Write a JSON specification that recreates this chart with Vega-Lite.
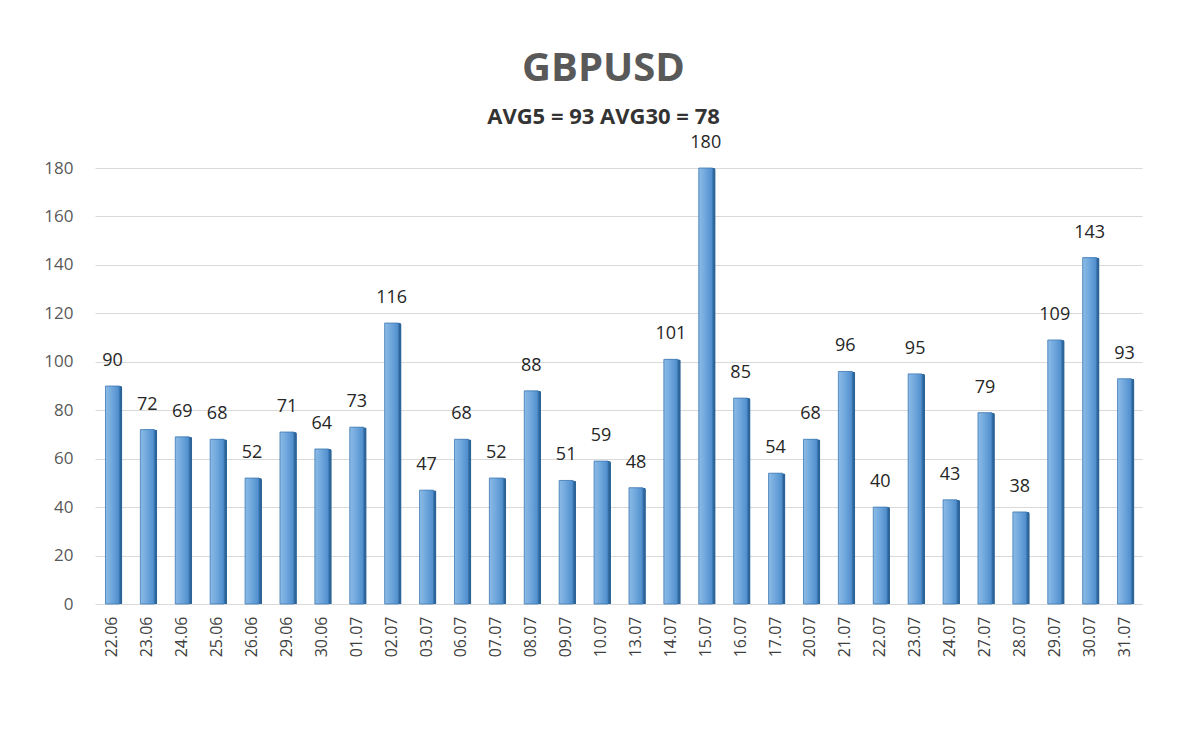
{
  "$schema": "https://vega.github.io/schema/vega-lite/v6.json",
  "autosize": {"type": "none"},
  "width": 1047,
  "height": 436,
  "padding": {"left": 95, "top": 168, "right": 58, "bottom": 145},
  "background": "#ffffff",
  "title": {
    "text": "GBPUSD",
    "subtitle": "AVG5 = 93 AVG30 = 78",
    "anchor": "middle",
    "dx": -15,
    "font": "Open Sans",
    "fontSize": 40,
    "fontWeight": "bold",
    "color": "#595959",
    "subtitleFont": "Open Sans",
    "subtitleFontSize": 22,
    "subtitleFontWeight": "bold",
    "subtitleColor": "#333333",
    "subtitlePadding": 18,
    "offset": 6
  },
  "data": {
    "values": [
      {"date": "22.06", "value": 90},
      {"date": "23.06", "value": 72},
      {"date": "24.06", "value": 69},
      {"date": "25.06", "value": 68},
      {"date": "26.06", "value": 52},
      {"date": "29.06", "value": 71},
      {"date": "30.06", "value": 64},
      {"date": "01.07", "value": 73},
      {"date": "02.07", "value": 116},
      {"date": "03.07", "value": 47},
      {"date": "06.07", "value": 68},
      {"date": "07.07", "value": 52},
      {"date": "08.07", "value": 88},
      {"date": "09.07", "value": 51},
      {"date": "10.07", "value": 59},
      {"date": "13.07", "value": 48},
      {"date": "14.07", "value": 101},
      {"date": "15.07", "value": 180},
      {"date": "16.07", "value": 85},
      {"date": "17.07", "value": 54},
      {"date": "20.07", "value": 68},
      {"date": "21.07", "value": 96},
      {"date": "22.07", "value": 40},
      {"date": "23.07", "value": 95},
      {"date": "24.07", "value": 43},
      {"date": "27.07", "value": 79},
      {"date": "28.07", "value": 38},
      {"date": "29.07", "value": 109},
      {"date": "30.07", "value": 143},
      {"date": "31.07", "value": 93}
    ]
  },
  "encoding": {
    "x": {
      "field": "date",
      "type": "nominal",
      "sort": null,
      "scale": {"paddingInner": 0.6, "paddingOuter": 0.3},
      "axis": {
        "title": null,
        "labelAngle": -90,
        "labelFont": "Open Sans",
        "labelFontSize": 16,
        "labelColor": "#404040",
        "labelPadding": 12,
        "ticks": false,
        "domain": false,
        "grid": false
      }
    },
    "y": {
      "field": "value",
      "type": "quantitative",
      "scale": {"domain": [0, 180]},
      "axis": {
        "title": null,
        "values": [0, 20, 40, 60, 80, 100, 120, 140, 160, 180],
        "labelFont": "Open Sans",
        "labelFontSize": 17,
        "labelColor": "#595959",
        "labelPadding": 22,
        "ticks": false,
        "domain": false,
        "gridColor": "#d9d9d9",
        "gridWidth": 1
      }
    }
  },
  "layer": [
    {
      "mark": {
        "type": "bar",
        "xOffset": 3,
        "color": "#2d6599",
        "cornerRadiusTopRight": 2
      }
    },
    {
      "mark": {
        "type": "bar",
        "color": {
          "gradient": "linear",
          "x1": 0, "y1": 0, "x2": 1, "y2": 0,
          "stops": [
            {"offset": 0, "color": "#8cbbe6"},
            {"offset": 0.5, "color": "#6ea6dc"},
            {"offset": 1, "color": "#4d8ccb"}
          ]
        },
        "stroke": "#3c78b4",
        "strokeWidth": 0.8
      }
    },
    {
      "mark": {
        "type": "text",
        "dy": -16,
        "font": "Open Sans",
        "fontSize": 18,
        "color": "#262626",
        "baseline": "bottom"
      },
      "encoding": {"text": {"field": "value", "type": "quantitative"}}
    }
  ],
  "config": {"view": {"stroke": null}}
}
